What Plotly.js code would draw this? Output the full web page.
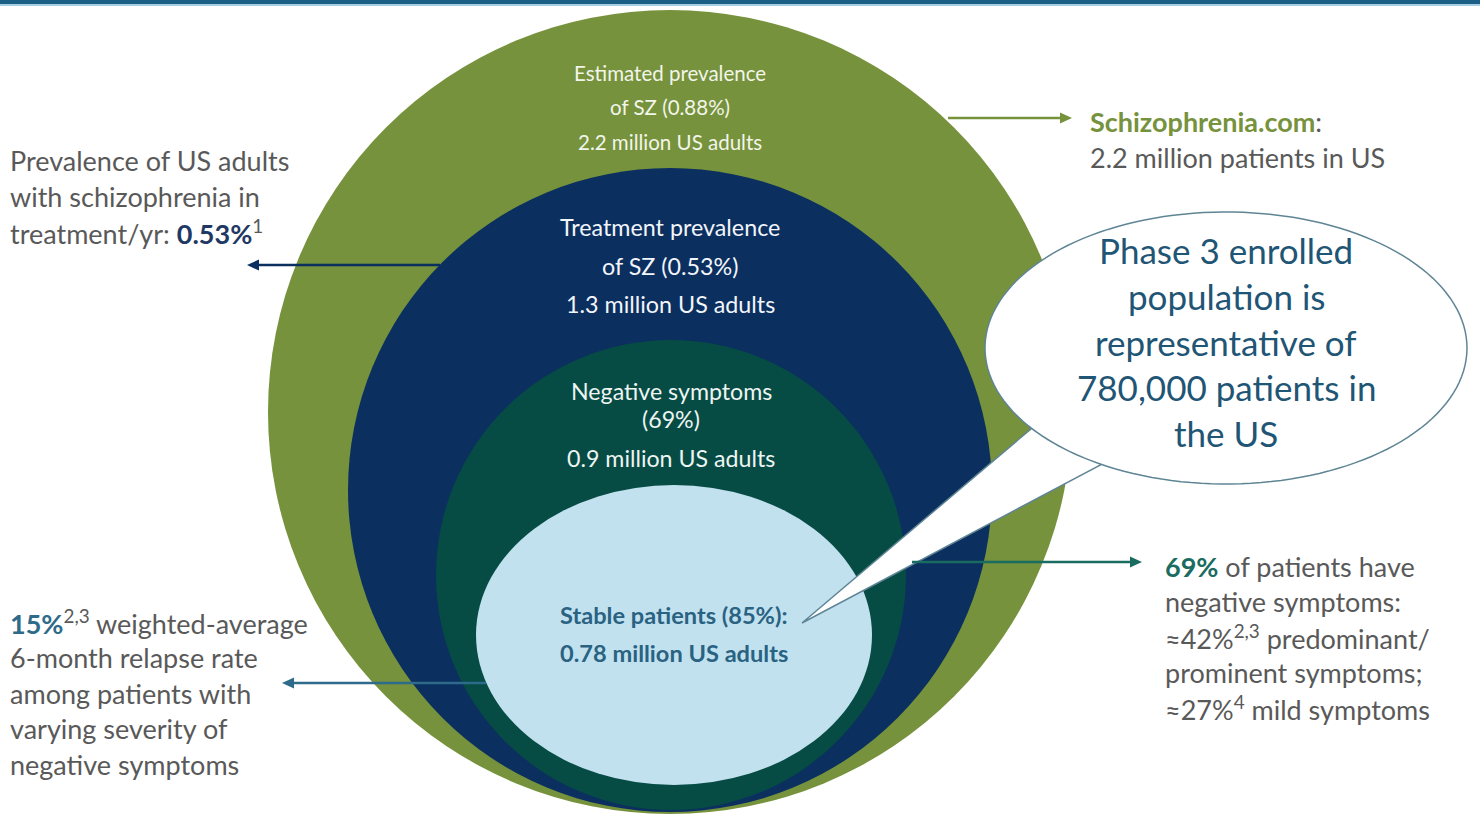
<!DOCTYPE html>
<html>
<head>
<meta charset="utf-8">
<script src="https://cdn.plot.ly/plotly-3.0.1.min.js"></script>
<style>
  html, body { margin: 0; padding: 0; background: #ffffff; }
  #chart { width: 1480px; height: 814px; }
</style>
</head>
<body>
<div id="chart"></div>
<script>
// ---------------- DATA ----------------
const categories = ['Estimated prevalence', 'Treatment prevalence', 'Negative symptoms', 'Stable patients'];
const percents = ['0.88%', '0.53%', '69%', '85%'];
const millions = [2.2, 1.3, 0.9, 0.78];
const calloutLines = ['Phase 3 enrolled', 'population is', 'representative of', '780,000 patients in', 'the US'];
const leftTopLines = ['Prevalence of US adults', 'with schizophrenia in', 'treatment/yr: <span style="font-weight:bold;color:#1f3864">0.53%</span><sup>1</sup>'];
const leftBottomLines = ['<span style="font-weight:bold;color:#2e6a8a">15%</span><sup>2,3</sup> weighted-average', '6-month relapse rate', 'among patients with', 'varying severity of', 'negative symptoms'];
const rightTopLines = ['<span style="font-weight:bold;color:#76923c">Schizophrenia.com</span>:', '2.2 million patients in US'];
const rightBottomLines = ['<span style="font-weight:bold;color:#1a6b60">69%</span> of patients have', 'negative symptoms:', '≈42%<sup>2,3</sup> predominant/', 'prominent symptoms;', '≈27%<sup>4</sup> mild symptoms'];

// ---------------- LAYOUT GEOMETRY ----------------
const FONT = 'Lato, "Open Sans", sans-serif';
const SIDE = 27;
const circleGeom = [
  {cx: 670, cy: 412, rx: 402, ry: 402, fill: '#76923c'},
  {cx: 670, cy: 490, rx: 322, ry: 322, fill: '#0b2f5f'},
  {cx: 671, cy: 575, rx: 235, ry: 235, fill: '#064c45'},
  {cx: 674, cy: 635, rx: 198, ry: 150, fill: '#c1e1ef'}
];
const circleText = [
  {lines: [categories[0], 'of SZ (' + percents[0] + ')', millions[0] + ' million US adults'], ys: [73, 107, 142], size: 20.5, color: '#f2f5ea', bold: false},
  {lines: [categories[1], 'of SZ (' + percents[1] + ')', millions[1] + ' million US adults'], ys: [227, 266, 304], size: 23.3, color: '#f2f5fa', bold: false},
  {lines: [categories[2], '(' + percents[2] + ')', millions[2] + ' million US adults'], ys: [391, 419, 458], size: 23.2, color: '#eef5f2', bold: false},
  {lines: [categories[3] + ' (' + percents[3] + '):', millions[3] + ' million US adults'], ys: [615, 653], size: 23.6, color: '#2a6282', bold: true}
];

const shapes = circleGeom.map(g => ({
  type: 'circle', xref: 'x', yref: 'y', layer: 'above',
  x0: g.cx - g.rx, x1: g.cx + g.rx, y0: g.cy - g.ry, y1: g.cy + g.ry,
  fillcolor: g.fill, line: {width: 0}
}));

// top banner
shapes.push({type: 'rect', xref: 'paper', yref: 'y', x0: 0, x1: 1, y0: 0, y1: 4, fillcolor: '#1b5e86', line: {width: 0}});
shapes.push({type: 'rect', xref: 'paper', yref: 'y', x0: 0, x1: 1, y0: 4, y1: 6, fillcolor: '#a7cde0', line: {width: 0}});

// callout bubble (ellipse with tail)
const bub = {cx: 1226, cy: 348, rx: 241, ry: 136, tipX: 802, tipY: 623, a: [1035, 427], b: [1103, 463]};
function angleOf(p) { return Math.atan2((p[1] - bub.cy) / bub.ry, (p[0] - bub.cx) / bub.rx); }
(function () {
  const tA = angleOf(bub.a), tB = angleOf(bub.b);
  let start = tA, end = tB - 2 * Math.PI;
  const n = 160;
  let d = '';
  for (let i = 0; i <= n; i++) {
    const t = start + (end - start) * i / n;
    const x = bub.cx + bub.rx * Math.cos(t), y = bub.cy + bub.ry * Math.sin(t);
    d += (i === 0 ? 'M' : 'L') + x.toFixed(2) + ',' + y.toFixed(2) + ' ';
  }
  d += 'L' + bub.tipX + ',' + bub.tipY + ' Z';
  shapes.push({type: 'path', xref: 'x', yref: 'y', layer: 'above', path: d, fillcolor: '#ffffff', line: {color: '#5f8595', width: 1.5}});
})();

// arrows (line + triangular head)
function arrow(x0, y, x1, color) {
  const dir = Math.sign(x1 - x0), L = 12, W = 5.5;
  shapes.push({type: 'line', xref: 'x', yref: 'y', layer: 'above', x0: x0, x1: x1 - dir * (L - 2), y0: y, y1: y, line: {color: color, width: 2.5}});
  shapes.push({type: 'path', xref: 'x', yref: 'y', layer: 'above',
    path: 'M' + x1 + ',' + y + ' L' + (x1 - dir * L) + ',' + (y - W) + ' L' + (x1 - dir * L) + ',' + (y + W) + ' Z',
    fillcolor: color, line: {width: 0}});
}
arrow(948, 118, 1072, '#76923c');
arrow(440, 265, 247, '#0b2f5f');
arrow(912, 562, 1142, '#1a6b60');
arrow(486, 683, 282, '#2e6a8a');

// ---------------- ANNOTATIONS ----------------
const annotations = [];
function addLines(lines, x, y0, dy, opts) {
  lines.forEach((t, i) => {
    annotations.push(Object.assign({
      text: t, x: x, y: y0 + i * dy, xref: 'x', yref: 'y', showarrow: false,
      xanchor: 'left', yanchor: 'middle',
      font: {family: FONT, size: SIDE, color: '#595959'}
    }, opts || {}));
  });
}
circleText.forEach((c, k) => {
  c.lines.forEach((t, i) => {
    annotations.push({
      text: t, x: circleGeom[k].cx, y: c.ys[i], xref: 'x', yref: 'y',
      showarrow: false, xanchor: 'center', yanchor: 'middle',
      font: {family: FONT, size: c.size, color: c.color, weight: c.bold ? 700 : 400}
    });
  });
});
addLines(calloutLines, 1226, 250, 45.8, {xanchor: 'center', font: {family: FONT, size: 35, color: '#1f5575'}});
addLines(leftTopLines, 8, 160, 36);
addLines(leftBottomLines, 8, 622, 35.5);
addLines(rightTopLines, 1088, 121, 36);
addLines(rightBottomLines, 1163, 566, 35.5);

const layout = {
  width: 1480, height: 814,
  margin: {l: 0, r: 0, t: 0, b: 0},
  paper_bgcolor: '#ffffff', plot_bgcolor: '#ffffff',
  xaxis: {range: [0, 1480], visible: false, fixedrange: true},
  yaxis: {range: [814, 0], visible: false, fixedrange: true},
  showlegend: false,
  shapes: shapes,
  annotations: annotations
};

Plotly.newPlot('chart', [], layout, {displayModeBar: false, staticPlot: true});
</script>
</body>
</html>
